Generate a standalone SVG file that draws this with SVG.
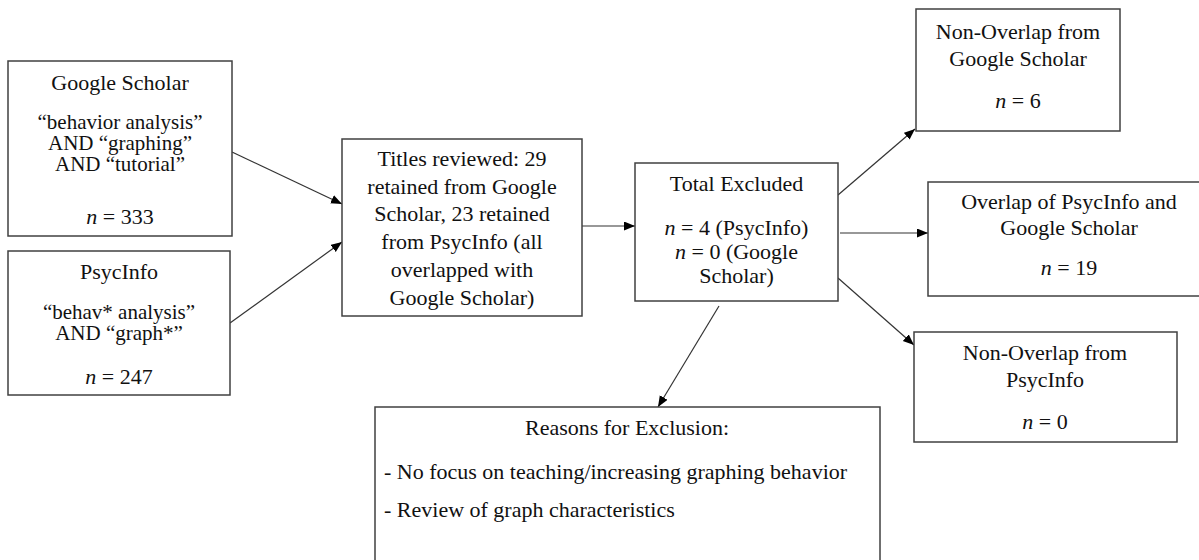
<svg xmlns="http://www.w3.org/2000/svg" width="1199" height="560" viewBox="0 0 1199 560">
<defs>
<marker id="arr" markerUnits="userSpaceOnUse" markerWidth="12" markerHeight="10" refX="11" refY="4.5" orient="auto">
<path d="M0,0 L11,4.5 L0,9 z" fill="#000"/>
</marker>
<style>
.box{fill:#fff;stroke:#404040;stroke-width:1.5}
.t{font-family:"Liberation Serif","Times New Roman",serif;font-size:22px;fill:#111;text-anchor:middle}
.s{font-size:21px}
.l{text-anchor:start}
.i{font-style:italic}
.c{stroke:#333;stroke-width:1.2;fill:none;marker-end:url(#arr)}
</style>
</defs>
<rect width="1199" height="560" fill="#fff"/>
<g id="connectors">
<line class="c" x1="232" y1="152" x2="342" y2="204"/>
<line class="c" x1="230" y1="323" x2="342" y2="242"/>
<line class="c" x1="582" y1="226" x2="635" y2="226"/>
<line class="c" x1="838" y1="195" x2="915" y2="129"/>
<line class="c" x1="840" y1="233" x2="928" y2="233"/>
<line class="c" x1="838" y1="278" x2="914" y2="345"/>
<line class="c" x1="719" y1="306" x2="658" y2="407"/>
</g>
<g id="google-scholar">
<rect class="box" x="8" y="61" width="224" height="175"/>
<text class="t" x="120" y="90">Google Scholar</text>
<text class="t s" x="120" y="128.5">“behavior analysis”</text>
<text class="t s" x="120" y="149.5">AND “graphing”</text>
<text class="t s" x="120" y="170.5">AND “tutorial”</text>
<text class="t" x="120" y="224"><tspan class="i">n</tspan> = 333</text>
</g>
<g id="psycinfo">
<rect class="box" x="8" y="251" width="222" height="144"/>
<text class="t" x="119" y="279">PsycInfo</text>
<text class="t s" x="119" y="319">“behav* analysis”</text>
<text class="t s" x="119" y="340">AND “graph*”</text>
<text class="t" x="119" y="384"><tspan class="i">n</tspan> = 247</text>
</g>
<g id="titles-reviewed">
<rect class="box" x="342" y="139" width="240" height="177"/>
<text class="t" x="462" y="166">Titles reviewed: 29</text>
<text class="t" x="462" y="194">retained from Google</text>
<text class="t" x="462" y="221">Scholar, 23 retained</text>
<text class="t" x="462" y="249">from PsycInfo (all</text>
<text class="t" x="462" y="277">overlapped with</text>
<text class="t" x="462" y="305">Google Scholar)</text>
</g>
<g id="total-excluded">
<rect class="box" x="635" y="163" width="203" height="138"/>
<text class="t" x="736.5" y="191">Total Excluded</text>
<text class="t" x="736.5" y="235"><tspan class="i">n</tspan> = 4 (PsycInfo)</text>
<text class="t" x="736.5" y="259"><tspan class="i">n</tspan> = 0 (Google</text>
<text class="t" x="736.5" y="283">Scholar)</text>
</g>
<g id="non-overlap-google">
<rect class="box" x="916" y="9" width="204" height="122"/>
<text class="t" x="1018" y="39">Non-Overlap from</text>
<text class="t" x="1018" y="66">Google Scholar</text>
<text class="t" x="1018" y="108"><tspan class="i">n</tspan> = 6</text>
</g>
<g id="overlap">
<rect class="box" x="928" y="182" width="282" height="114"/>
<text class="t" x="1069" y="209">Overlap of PsycInfo and</text>
<text class="t" x="1069" y="235">Google Scholar</text>
<text class="t" x="1069" y="275"><tspan class="i">n</tspan> = 19</text>
</g>
<g id="non-overlap-psycinfo">
<rect class="box" x="914" y="332" width="263" height="110"/>
<text class="t" x="1045" y="360">Non-Overlap from</text>
<text class="t" x="1045" y="387">PsycInfo</text>
<text class="t" x="1045" y="429"><tspan class="i">n</tspan> = 0</text>
</g>
<g id="reasons">
<rect class="box" x="375" y="407" width="505" height="170"/>
<text class="t" x="627" y="435">Reasons for Exclusion:</text>
<text class="t l" x="384" y="479">- No focus on teaching/increasing graphing behavior</text>
<text class="t l" x="384" y="517">- Review of graph characteristics</text>
</g>
</svg>
